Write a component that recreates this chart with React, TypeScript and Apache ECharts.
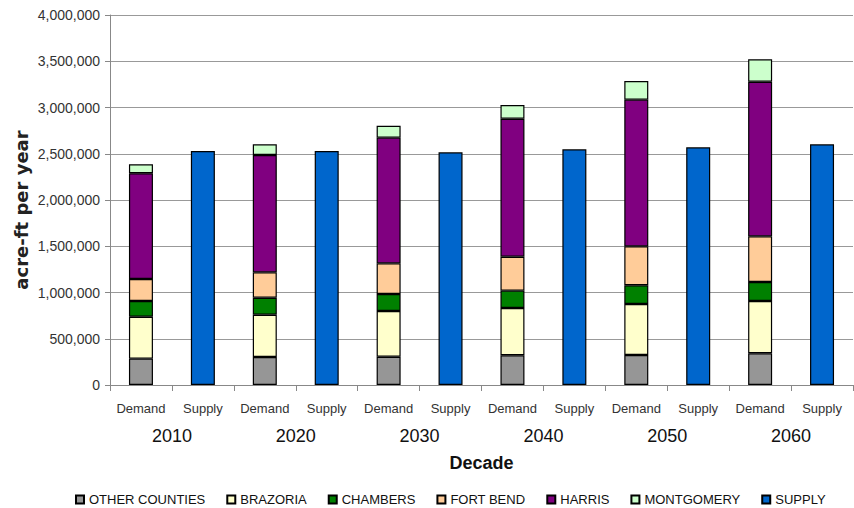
import React, { useEffect, useRef } from "react";
import * as echarts from "echarts";

const decades = ["2010", "2020", "2030", "2040", "2050", "2060"];
const barTypes = ["Demand", "Supply"];
const yTicks = [0, 500000, 1000000, 1500000, 2000000, 2500000, 3000000, 3500000, 4000000];

const otherCounties = [285000, 303000, 306000, 321000, 325000, 343000];
const brazoria = [453000, 457000, 494000, 511000, 551000, 565000];
const chambers = [170000, 184000, 184000, 188000, 202000, 206000];
const fortBend = [238000, 274000, 331000, 367000, 421000, 493000];
const harris = [1143000, 1269000, 1359000, 1492000, 1586000, 1672000];
const montgomery = [97000, 115000, 129000, 148000, 202000, 242000];
const supply = [2530000, 2530000, 2515000, 2548000, 2570000, 2602000];

const demandSeries = [
  { name: "OTHER COUNTIES", values: otherCounties, color: "#969696" },
  { name: "BRAZORIA", values: brazoria, color: "#FFFFCC" },
  { name: "CHAMBERS", values: chambers, color: "#008000" },
  { name: "FORT BEND", values: fortBend, color: "#FFCC99" },
  { name: "HARRIS", values: harris, color: "#800080" },
  { name: "MONTGOMERY", values: montgomery, color: "#CCFFCC" },
];

const categories: string[] = [];
decades.forEach(() => barTypes.forEach((t) => categories.push(t)));

const fmt = (v: number) => v.toLocaleString("en-US");
const FONT = "'Liberation Sans', Arial, sans-serif";

export default function App() {
  const ref = useRef<HTMLDivElement>(null);
  useEffect(() => {
    if (!ref.current) return;
    const chart = echarts.init(ref.current, undefined, { renderer: "svg" });
    const barBase = {
      type: "bar" as const,
      stack: "total",
      barWidth: 24,
      itemStyle: { borderColor: "#000", borderWidth: 1.2 },
    };
    const series: any[] = demandSeries.map((s) => ({
      ...barBase,
      name: s.name,
      itemStyle: { ...barBase.itemStyle, color: s.color },
      data: s.values.flatMap((v) => [v, "-"]),
    }));
    series.push({
      ...barBase,
      name: "SUPPLY",
      itemStyle: { ...barBase.itemStyle, color: "#0066CC" },
      data: supply.flatMap((v) => ["-", v]),
    });
    chart.setOption({
      animation: false,
      backgroundColor: "#fff",
      textStyle: { fontFamily: FONT },
      grid: { left: 110, right: 1, top: 15, bottom: 123, containLabel: false },
      graphic: [
        {
          type: "text",
          x: 21,
          y: 210,
          rotation: Math.PI / 2,
          style: {
            text: "acre-ft per year",
            fontSize: 18,
            fontWeight: "bold",
            fill: "#222",
            fontFamily: "'DejaVu Sans', sans-serif",
            textAlign: "center",
            textVerticalAlign: "middle",
          },
        },
      ],
      legend: {
        left: 70,
        top: 488,
        itemWidth: 8,
        itemHeight: 8,
        itemGap: 21,
        icon: "rect",
        textStyle: { fontSize: 13, color: "#111", fontFamily: FONT },
        data: [...demandSeries.map((s) => s.name), "SUPPLY"],
      },
      xAxis: [
        {
          type: "category",
          data: categories,
          position: "bottom",
          axisLine: { lineStyle: { color: "#888", width: 1 } },
          axisTick: { show: true, length: 6, lineStyle: { color: "#888" } },
          axisLabel: { fontSize: 13, color: "#333", margin: 17, interval: 0, fontFamily: FONT },
        },
        {
          type: "category",
          data: decades,
          position: "bottom",
          axisLine: { show: false },
          axisTick: { show: false },
          axisLabel: { fontSize: 18, color: "#111", margin: 42, interval: 0, fontFamily: FONT },
          name: "Decade",
          nameLocation: "middle",
          nameGap: 69,
          nameTextStyle: { fontSize: 18, fontWeight: "bold", color: "#111", fontFamily: FONT },
        },
      ],
      yAxis: {
        type: "value",
        min: 0,
        max: 4000000,
        interval: 500000,
        axisLine: { show: true, lineStyle: { color: "#888" } },
        axisTick: { show: true, length: 5, lineStyle: { color: "#888" } },
        axisLabel: {
          fontSize: 14,
          color: "#333",
          margin: 10,
          fontFamily: FONT,
          formatter: (v: number) => (yTicks.includes(v) ? fmt(v) : ""),
        },
        splitLine: { lineStyle: { color: "#999", width: 1 } },
      },
      series,
    });
    return () => chart.dispose();
  }, []);
  return (
    <div
      ref={ref}
      style={{ position: "fixed", left: 0, top: 0, width: 854, height: 508 }}
    />
  );
}
